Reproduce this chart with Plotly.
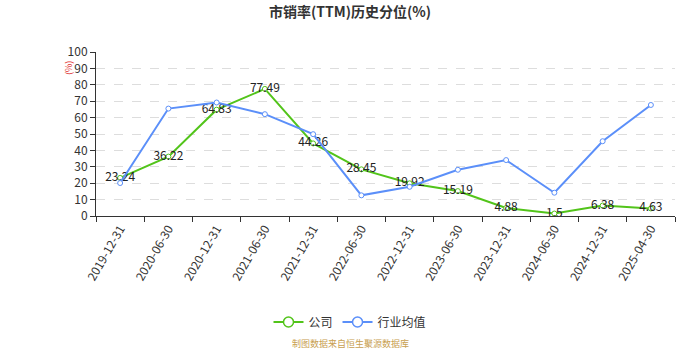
import plotly.graph_objects as go

# Reporting dates
dates = ["2019-12-31", "2020-06-30", "2020-12-31", "2021-06-30", "2021-12-31",
         "2022-06-30", "2022-12-31", "2023-06-30", "2023-12-31", "2024-06-30",
         "2024-12-31", "2025-04-30"]

# P/S (TTM) historical percentile, company
company = [23.24, 36.22, 64.83, 77.49, 44.26, 28.45, 19.92, 15.19, 4.88, 1.5, 6.38, 4.63]

# Industry average percentile
industry = [20.1, 65.5, 69.2, 62.1, 49.9, 12.6, 17.8, 28.2, 34.1, 14.2, 45.6, 67.7]

green = "#52c41a"
blue = "#5b8ff9"
font_family = "Noto Sans CJK SC, Noto Sans, sans-serif"

fig = go.Figure()

series = [("公司", company, green, True), ("行业均值", industry, blue, False)]

for name, values, color, labelled in series:
    fig.add_trace(go.Scatter(
        x=dates, y=values, name=name,
        mode="lines+markers+text" if labelled else "lines+markers",
        line=dict(color=color, width=2),
        marker=dict(symbol="circle", size=5, color="white", line=dict(color=color, width=1)),
        text=[f"{v:g}" for v in values] if labelled else None,
        textposition="middle center",
        textfont=dict(size=12, color="#222222", family=font_family),
        showlegend=False,
    ))

# legend entries with larger symbols
for name, values, color, labelled in series:
    fig.add_trace(go.Scatter(
        x=[None], y=[None], name=name, mode="lines+markers",
        line=dict(color=color, width=2),
        marker=dict(symbol="circle", size=10, color="white", line=dict(color=color, width=1.5)),
        showlegend=True,
    ))

plot_w = 700 - 96 - 25
plot_h = 350 - 52 - 134

fig.update_layout(
    width=700, height=350,
    margin=dict(l=96, r=25, t=52, b=134),
    paper_bgcolor="white", plot_bgcolor="white",
    font=dict(family=font_family, size=12, color="#333333"),
    title=dict(text="<b>市销率(TTM)历史分位(%)</b>", x=0.5, xanchor="center",
               y=0.965, yanchor="middle", font=dict(size=14, color="#333333")),
    showlegend=True,
    legend=dict(orientation="h", x=(350 - 96) / plot_w, xanchor="center",
                y=(216 - 322) / plot_h, yanchor="middle",
                font=dict(size=12, color="#333333"), itemwidth=30),
    xaxis=dict(
        type="category", range=[-0.5, len(dates) - 0.5],
        showline=True, linecolor="#333333", linewidth=1,
        ticks="outside", ticklen=5, tickcolor="#333333", tickson="boundaries",
        tickangle=-60, tickfont=dict(size=12, color="#333333"),
        showgrid=False, zeroline=False,
    ),
    yaxis=dict(
        range=[0, 100], dtick=10,
        showline=True, linecolor="#333333", linewidth=1,
        ticks="outside", ticklen=5, tickcolor="#333333",
        tickfont=dict(size=12, color="#333333"),
        showgrid=True, gridcolor="#dddddd", griddash="dash", gridwidth=1,
        zeroline=False,
    ),
    annotations=[
        dict(text="(%)", x=(68 - 96) / plot_w, y=(216 - 68) / plot_h,
             xref="paper", yref="paper", showarrow=False,
             textangle=-90, font=dict(size=9, color="#e03030"),
             xanchor="center", yanchor="middle"),
        dict(text="制图数据来自恒生聚源数据库", x=(350 - 96) / plot_w, y=(216 - 343) / plot_h,
             xref="paper", yref="paper", showarrow=False,
             font=dict(size=9, color="#c8a050"),
             xanchor="center", yanchor="middle"),
    ],
)

fig.write_html("out.html")
